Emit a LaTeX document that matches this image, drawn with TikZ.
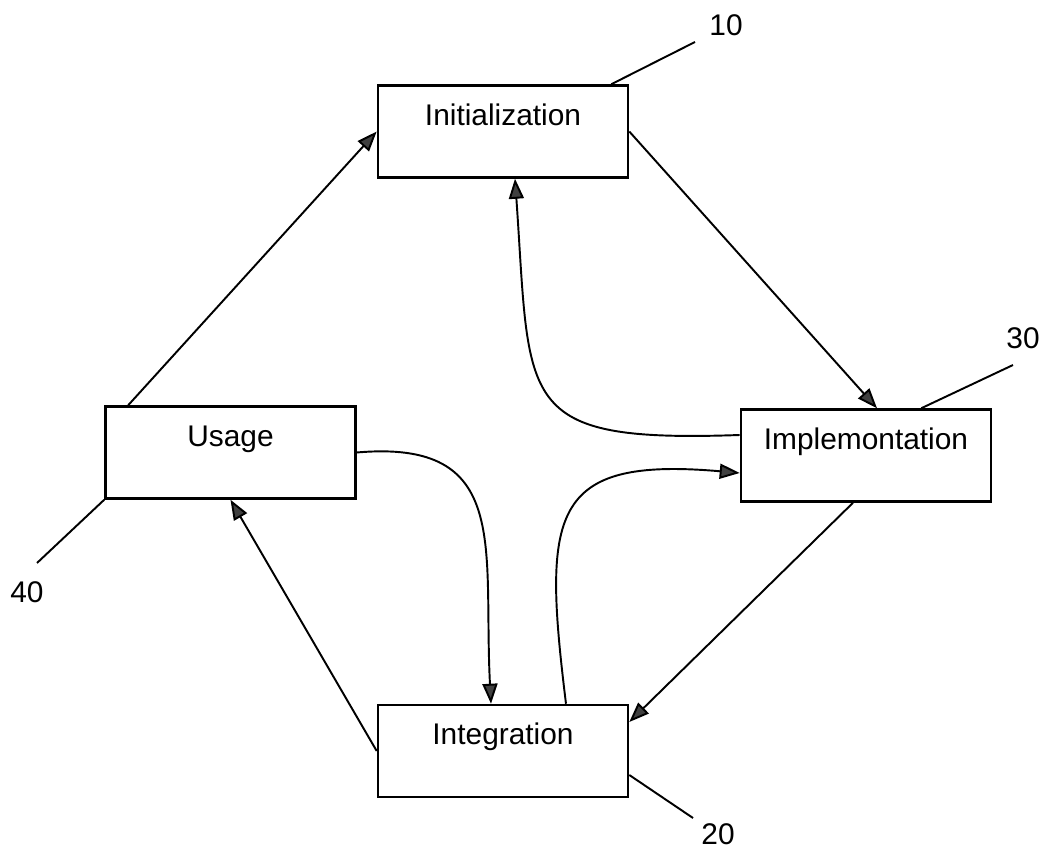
\documentclass[tikz,border=0pt]{standalone}
\usepackage{fontspec}
\setmainfont{Liberation Sans}
\usepackage{tikz}
\usetikzlibrary{arrows.meta}

\tikzset{
	stage/.style={draw, line width=1.5pt, minimum width=5cm, inner xsep=0pt, inner ysep=10.4pt, text height=12.2pt, text depth=19.3pt, font=\fontsize{17}{20}\selectfont},
	flow/.style={line width=1.1pt, -{Triangle[length=0.4cm,width=0.3cm,fill=black!75]}},
	lead/.style={line width=1.1pt},
	refnum/.style={font=\fontsize{17}{20}\selectfont, inner sep=0pt}
}

\begin{document}
\begin{tikzpicture}[x=0.02cm, y=-0.02cm]
	\useasboundingbox (0,0) rectangle (1048,854);
	\node[stage] (init) at (503,131.5) {Initialization};
	\node[stage] (usage) at (230.5,452.5) {Usage};
	\node[stage] (impl) at (866,455.5) {Implemontation};
	\node[stage] (integ) at (503,751) {Integration};

	\draw[flow] ([xshift=0.48cm]usage.north west) -- (init.west);
	\draw[flow] (init.east) -- ([xshift=0.22cm]impl.north);
	\draw[flow] ([xshift=-0.26cm]impl.south) -- ([yshift=0.58cm]integ.east);
	\draw[flow] (integ.west) -- (usage.south);
	\draw[flow] (usage.east) to[out=5, in=93, looseness=1.4] ([xshift=-0.24cm]integ.north);
	\draw[flow] ([xshift=1.26cm]integ.north) to[out=97, in=175, looseness=1.7] ([yshift=-0.35cm]impl.west);
	\draw[flow] ([yshift=0.41cm]impl.west) to[out=182, in=-86, looseness=1.7] ([xshift=0.24cm]init.south);

	\coordinate (e10) at (695,42);
	\coordinate (e30) at (1013,365);
	\coordinate (e40) at (37,563);
	\coordinate (e20) at (693,818);
	\draw[lead] ([xshift=-0.36cm]init.north east) -- (e10);
	\draw[lead] ([xshift=-1.42cm]impl.north east) -- (e30);
	\draw[lead] (usage.south west) -- (e40);
	\draw[lead] ([yshift=-0.48cm]integ.east) -- (e20);
	\node[refnum] (n10) at (726,25) {10};
	\node[refnum] (n30) at (1023,338) {30};
	\node[refnum] (n40) at (27,592) {40};
	\node[refnum] (n20) at (718,834) {20};
\end{tikzpicture}
\end{document}
